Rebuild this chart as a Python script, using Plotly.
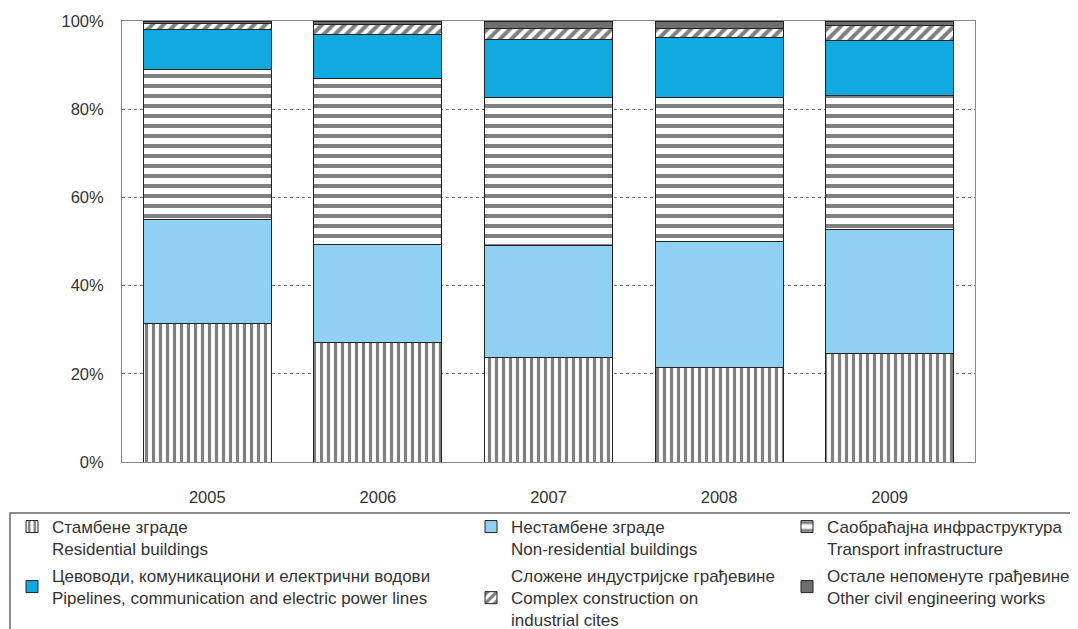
import plotly.graph_objects as go

years = ["2005", "2006", "2007", "2008", "2009"]
residential = [31.5, 27.0, 23.6, 21.5, 24.7]
non_residential = [23.4, 22.4, 25.6, 28.4, 28.1]
transport = [34.0, 37.6, 33.5, 32.8, 30.4]
pipelines = [9.1, 10.0, 13.2, 13.6, 12.3]
complex_ind = [1.5, 2.1, 2.4, 2.0, 3.4]
other = [0.5, 0.9, 1.7, 1.7, 1.1]

names = [
    "Стамбене зграде<br>Residential buildings",
    "Нестамбене зграде<br>Non-residential buildings",
    "Саобраћајна инфраструктура<br>Transport infrastructure",
    "Цевоводи, комуникациони и електрични водови<br>Pipelines, communication and electric power lines",
    "Сложене индустријске грађевине<br>Complex construction on<br>industrial cites",
    "Остале непоменуте грађевине<br>Other civil engineering works",
]
y_ticks = [0, 20, 40, 60, 80, 100]
y_tick_text = ["0%", "20%", "40%", "60%", "80%", "100%"]

OFF = 8  # page body margin
W, H = 1078 - OFF, 629 - OFF
L, R, T, B = 122 - OFF, 103, 21 - OFF, 167
PW, PH = W - L - R, H - T - B

def px(x):
    return (x - OFF - L) / PW

def py(y):
    return (H - B - (y - OFF)) / PH

series = [
    (residential, dict(color="white", pattern=dict(shape="|", fgcolor="#000", bgcolor="white", size=7, solidity=0.45)), "legend"),
    (non_residential, dict(color="#8fd0f3"), "legend2"),
    (transport, dict(color="white", pattern=dict(shape="-", fgcolor="#000", bgcolor="white", size=10, solidity=0.4)), "legend3"),
    (pipelines, dict(color="#12a8e0"), "legend4"),
    (complex_ind, dict(color="white", pattern=dict(shape="/", fgcolor="#000", bgcolor="white", size=8, solidity=0.5)), "legend5"),
    (other, dict(color="#6e6e6e"), "legend6"),
]

fig = go.Figure()
for (vals, mk, lg), nm in zip(series, names):
    mk = dict(mk)
    mk["line"] = dict(color="#222", width=1)
    fig.add_trace(go.Bar(x=years, y=vals, name=nm, marker=mk, legend=lg, width=0.75))

font = dict(family="Liberation Sans, Arial, sans-serif", size=16.5, color="#333")
lfont = dict(family="Liberation Sans, Arial, sans-serif", size=17, color="#333")

def leg(xp, yp, valign):
    return dict(x=px(xp), y=py(yp), xanchor="left", yanchor="top", bgcolor="rgba(0,0,0,0)",
                font=lfont, valign=valign, itemwidth=30, tracegroupgap=0)

fig.update_layout(
    width=W, height=H,
    margin=dict(l=L, r=R, t=T, b=B, autoexpand=False),
    paper_bgcolor="white", plot_bgcolor="white",
    barmode="stack",
    font=font,
    xaxis=dict(showline=True, linecolor="#888", linewidth=1, mirror=True, showgrid=False,
               ticks="", ticklabelstandoff=20, tickfont=font, range=[-0.5, 4.5]),
    yaxis=dict(range=[0, 100], tickvals=y_ticks, ticktext=y_tick_text, showline=True, linecolor="#888",
               linewidth=1, mirror=True, showgrid=True, gridcolor="#777", griddash="dot", gridwidth=1,
               ticks="", ticklabelstandoff=14, tickfont=font, zeroline=False),
    legend=leg(12, 509, "top"),
    legend2=leg(471, 509, "top"),
    legend3=leg(787, 509, "top"),
    legend4=leg(12, 558, "middle"),
    legend5=leg(471, 558, "middle"),
    legend6=leg(787, 558, "middle"),
    showlegend=True,
)
fig.add_shape(type="rect", xref="paper", yref="paper", x0=px(10), x1=px(1075), y0=py(660), y1=py(513),
              line=dict(color="#666", width=1.5), fillcolor="rgba(0,0,0,0)")
fig.write_html("out.html")
